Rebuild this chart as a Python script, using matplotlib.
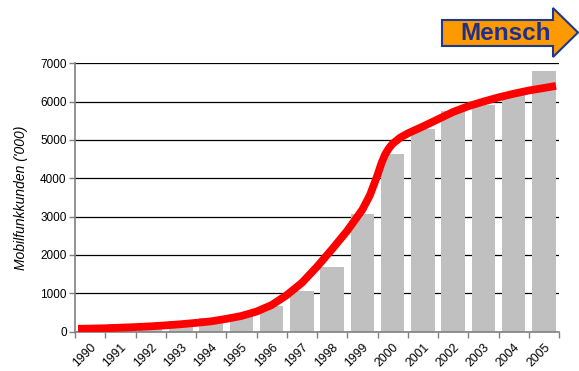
import matplotlib
matplotlib.use("Agg")
import matplotlib.pyplot as plt
from matplotlib.patches import Polygon

# Subscribers per year ('000)
years = list(range(1990, 2006))
subscribers = [100, 190, 218, 261, 340, 443, 653, 1052, 1680, 3063, 4630, 5282, 5744, 5919, 6162, 6797]

# Red trend curve (year position, value)
trend_years = [1989.6, 1990, 1990.5, 1991, 1991.5, 1992, 1992.5, 1993, 1993.5, 1994, 1994.5,
               1995, 1995.5, 1996, 1996.5, 1997, 1997.5, 1998, 1998.5, 1999, 1999.25,
               1999.5, 1999.625, 1999.75, 1999.875, 2000, 2000.25, 2000.5, 2001, 2001.5,
               2002, 2002.5, 2003, 2003.5, 2004, 2004.5, 2005, 2005.4]
trend_values = [70, 75, 85, 100, 115, 135, 160, 190, 225, 265, 330,
                405, 520, 690, 950, 1270, 1690, 2150, 2630, 3180, 3560,
                4080, 4380, 4620, 4780, 4900, 5060, 5170, 5350, 5540,
                5730, 5880, 6000, 6110, 6205, 6290, 6355, 6410]

y_ticks = [0, 1000, 2000, 3000, 4000, 5000, 6000, 7000]

fig = plt.figure(figsize=(5.79, 3.71), dpi=100)
ax = fig.add_axes([75 / 579, 39.5 / 371, 484 / 579, 268.2 / 371])

pos = [y - years[0] for y in years]
ax.bar(pos, subscribers, width=0.77, color="#c0c0c0", zorder=2)

trend_pos = [t - years[0] for t in trend_years]
ax.plot(trend_pos, trend_values, color="#ff0000", linewidth=5.6,
        solid_capstyle="butt", solid_joinstyle="round", zorder=3)

ax.set_xlim(-0.5, len(years) - 0.5)
ax.set_ylim(0, 7000)
ax.set_yticks(y_ticks)
ax.set_yticklabels([str(v) for v in y_ticks], fontsize=8.5, family="Liberation Sans")
ax.yaxis.grid(True, color="black", linewidth=0.9, zorder=1)
ax.set_axisbelow(True)

# tick marks between categories, labels at the centres
ax.set_xticks([p - 0.5 for p in pos] + [pos[-1] + 0.5])
ax.set_xticklabels([])
ax.set_xticks(pos, minor=True)
ax.set_xticklabels([str(y) for y in years], minor=True, rotation=45, ha="right",
                   va="top", rotation_mode="anchor", fontsize=8.8, family="Liberation Sans")
ax.tick_params(axis="x", which="minor", length=0, pad=7)
ax.tick_params(axis="x", which="major", length=4, color="#808080", width=1)
ax.tick_params(axis="y", length=4, color="#808080", width=1, pad=2)

for s in ["top", "right"]:
    ax.spines[s].set_visible(False)
ax.spines["left"].set_color("#808080")
ax.spines["bottom"].set_color("#808080")
ax.spines["left"].set_linewidth(1.2)
ax.spines["bottom"].set_linewidth(1.2)

ax.set_ylabel("Mobilfunkkunden ('000)", fontsize=10, style="italic",
              family="Liberation Sans", labelpad=9)

# "Mensch" arrow in the top right corner
W, H = 579.0, 371.0
pts = [(442, 20), (553, 20), (553, 8), (578, 32.5), (553, 57), (553, 46), (442, 46)]
arrow = Polygon([(x / W, 1 - y / H) for x, y in pts], closed=True,
                facecolor="#ff9900", edgecolor="#1a3a8f", linewidth=1.5,
                transform=fig.transFigure)
fig.patches.append(arrow)
fig.text(506 / W, 1 - 34 / H, "Mensch", fontsize=17.5, fontweight="bold",
         color="#1f2f8a", family="Liberation Sans", ha="center", va="center")

fig.savefig("out.png", dpi=100)
